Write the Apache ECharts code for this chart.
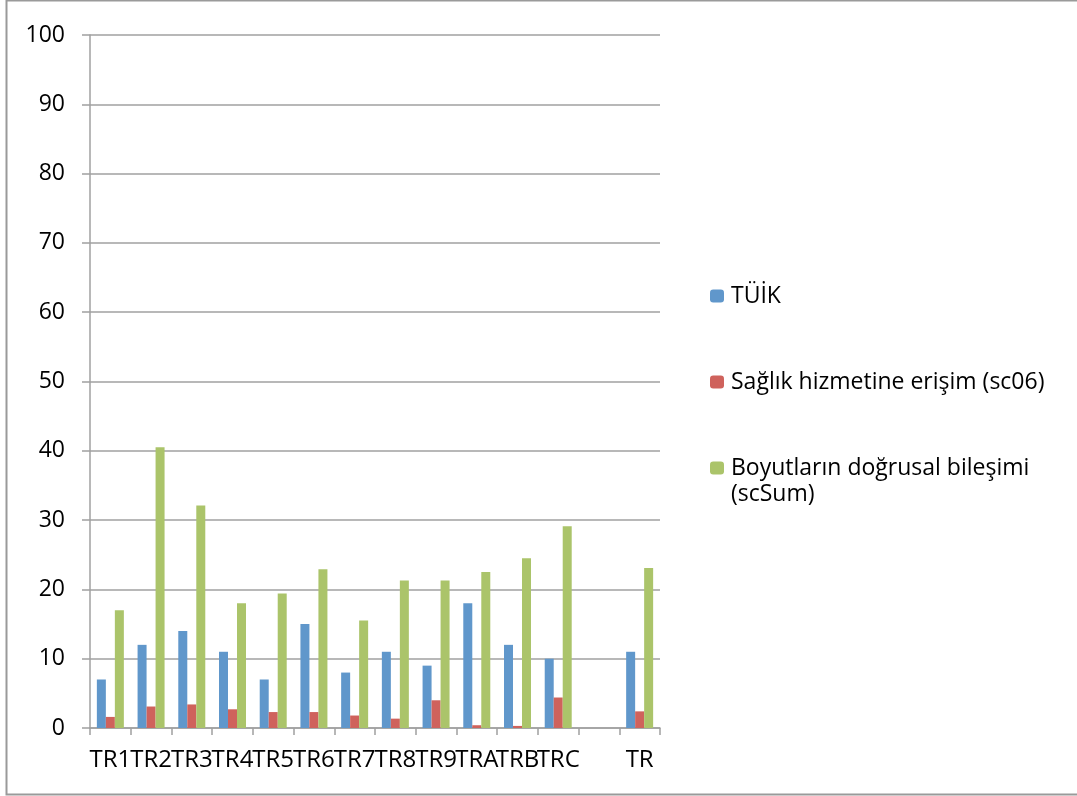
<!DOCTYPE html>
<html>
<head>
<meta charset="utf-8">
<script src="https://cdn.jsdelivr.net/npm/echarts@6/dist/echarts.min.js"></script>
<style>
html,body{margin:0;padding:0;background:#fff;}
#chart{width:1077px;height:796px;}
</style>
</head>
<body>
<div id="chart"></div>
<script>
var categories = ['TR1','TR2','TR3','TR4','TR5','TR6','TR7','TR8','TR9','TRA','TRB','TRC','','TR'];
var seriesNames = ['TÜİK', 'Sağlık hizmetine erişim (sc06)', 'Boyutların doğrusal bileşimi (scSum)'];
var tuik  = [7, 12, 14, 11, 7, 15, 8, 11, 9, 18, 12, 10, null, 11];
var sc06  = [1.6, 3.1, 3.4, 2.7, 2.3, 2.3, 1.8, 1.35, 4.0, 0.4, 0.3, 4.4, null, 2.4];
var scSum = [17.0, 40.5, 32.1, 18.0, 19.4, 22.9, 15.5, 21.3, 21.3, 22.5, 24.5, 29.1, null, 23.1];
var yTicks = {min: 0, max: 100, interval: 10};

var FONT = 'Open Sans';
var colors = ['#6097CB', '#CF625C', '#ABC46A'];
var gridGray = '#a0a0a0';

var chart = echarts.init(document.getElementById('chart'), null, {renderer: 'canvas'});

function legendAt(idx, top, fmt) {
  var l = {
    show: true,
    orient: 'vertical',
    left: 710,
    top: top,
    padding: 0,
    itemWidth: 14,
    itemHeight: 13,
    itemStyle: {borderWidth: 0},
    data: [seriesNames[idx]],
    textStyle: {fontFamily: FONT, fontSize: 23, color: '#000', lineHeight: 26, padding: [0, 0, 0, 2]}
  };
  if (fmt) l.formatter = fmt;
  return l;
}

var option = {
  animation: false,
  backgroundColor: '#fff',
  color: colors,
  graphic: [{
    type: 'rect',
    shape: {x: 6.5, y: 0.5, width: 1200, height: 794},
    style: {fill: 'none', stroke: '#9a9a9a', lineWidth: 2},
    silent: true
  }],
  legend: [
    legendAt(0, 283),
    legendAt(1, 369),
    legendAt(2, 429, function (name) {
      return '\n' + name.replace(' (scSum)', '\n(scSum)');
    })
  ],
  grid: {left: 90, right: 417, top: 35, bottom: 68, containLabel: false},
  xAxis: {
    type: 'category',
    data: categories,
    boundaryGap: true,
    axisLine: {lineStyle: {color: gridGray, width: 1.5}},
    axisTick: {show: true, length: 7, alignWithLabel: false, interval: 0, lineStyle: {color: gridGray, width: 1.5}},
    axisLabel: {interval: 0, margin: 20, fontFamily: FONT, fontSize: 24, color: '#000'},
    splitLine: {show: false}
  },
  yAxis: {
    type: 'value',
    min: yTicks.min,
    max: yTicks.max,
    interval: yTicks.interval,
    axisLine: {show: true, lineStyle: {color: gridGray, width: 1.5}},
    axisTick: {show: true, length: 8, lineStyle: {color: gridGray, width: 1.5}},
    axisLabel: {margin: 25, fontFamily: FONT, fontSize: 23, color: '#000', padding: [8, 0, 0, 0]},
    splitLine: {show: true, lineStyle: {color: gridGray, width: 1.5}}
  },
  series: [
    {name: seriesNames[0], type: 'bar', data: tuik, barWidth: 9, barGap: '0%', itemStyle: {color: colors[0]}},
    {name: seriesNames[1], type: 'bar', data: sc06, barWidth: 9, barGap: '0%', itemStyle: {color: colors[1]}},
    {name: seriesNames[2], type: 'bar', data: scSum, barWidth: 9, barGap: '0%', itemStyle: {color: colors[2]}}
  ]
};
chart.setOption(option);
</script>
</body>
</html>
